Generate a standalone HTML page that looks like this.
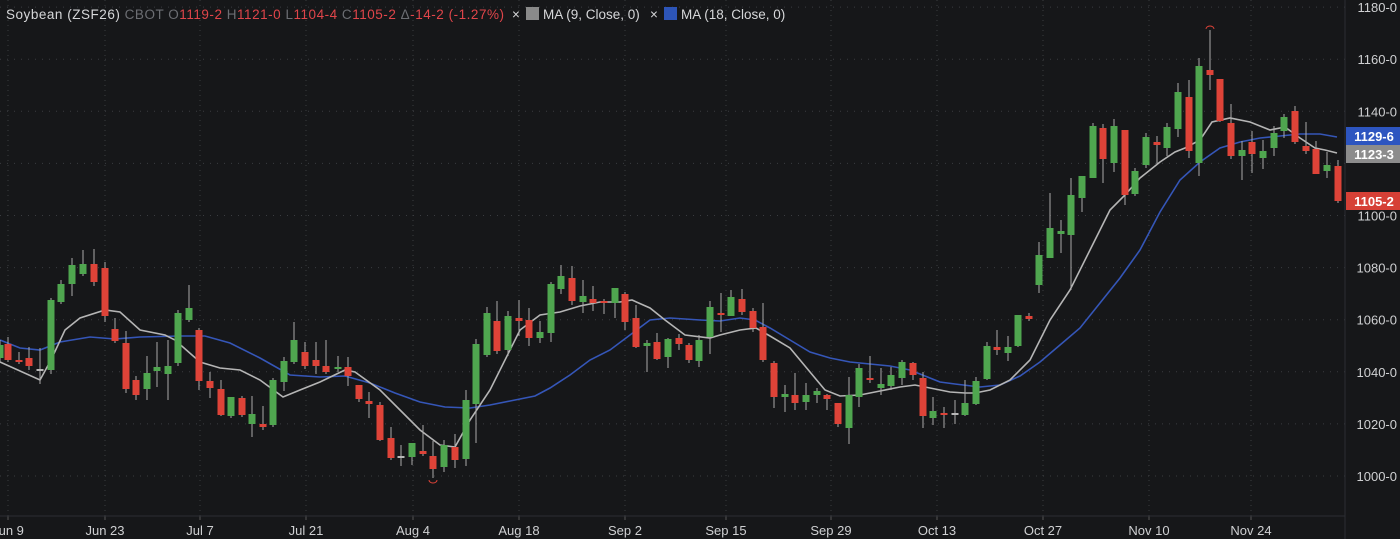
<!DOCTYPE html>
<html><head><meta charset="utf-8">
<style>
html,body{margin:0;padding:0;background:#161719;}
body{width:1400px;height:539px;overflow:hidden;position:relative;font-family:"Liberation Sans",sans-serif;}
svg{position:absolute;left:0;top:0;}
</style></head><body>
<svg id="s" width="1400" height="539" xmlns="http://www.w3.org/2000/svg">
<rect width="1400" height="539" fill="#161719"/>
<g id="grid"></g>
<g id="ma"></g>
<g id="c"></g>
<line x1="1345" y1="0" x2="1345" y2="539" stroke="#2c2e33"/>
<line x1="0" y1="516" x2="1345" y2="516" stroke="#2c2e33"/>
<g id="ax" font-size="13" fill="#cfd0d2"></g>
<g font-size="13.5" fill="#d6d7d9">
<text x="6" y="19" textLength="498" lengthAdjust="spacing">Soybean (ZSF26) <tspan fill="#6c6e73">CBOT O</tspan><tspan fill="#e0454a">1119-2</tspan><tspan fill="#6c6e73"> H</tspan><tspan fill="#e0454a">1121-0</tspan><tspan fill="#6c6e73"> L</tspan><tspan fill="#e0454a">1104-4</tspan><tspan fill="#6c6e73"> C</tspan><tspan fill="#e0454a">1105-2</tspan><tspan fill="#6c6e73"> Δ</tspan><tspan fill="#e0454a">-14-2 (-1.27%)</tspan></text>
<text x="512" y="19">×</text><rect x="526" y="7" width="13" height="13" fill="#8a8a8a"/><text x="543" y="19">MA (9, Close, 0)</text>
<text x="650" y="19">×</text><rect x="664" y="7" width="13" height="13" fill="#2d55b8"/><text x="681" y="19">MA (18, Close, 0)</text>
</g>
</svg>
<script>
const NS="http://www.w3.org/2000/svg";
function el(p,t,a){const e=document.createElementNS(NS,t);for(const k in a)e.setAttribute(k,a[k]);p.appendChild(e);return e;}
const g=document.getElementById('grid'),ax=document.getElementById('ax');
const xs=[8,105,200,306,413,519,625,726,831,937,1043,1149,1251],dl=["Jun 9","Jun 23","Jul 7","Jul 21","Aug 4","Aug 18","Sep 2","Sep 15","Sep 29","Oct 13","Oct 27","Nov 10","Nov 24"];
xs.forEach((x,i)=>{el(g,'line',{x1:x,y1:0,x2:x,y2:516,stroke:'#3a3c40','stroke-dasharray':'1 4'});el(g,'line',{x1:x,y1:516,x2:x,y2:520,stroke:'#555'});
 const t=el(ax,'text',{x:x,y:535,'text-anchor':'middle'});t.textContent=dl[i];});
for(let p=1000;p<=1180;p+=20){const y=476-(p-1000)*2.605;el(g,'line',{x1:0,y1:y,x2:1345,y2:y,stroke:'#3a3c40','stroke-dasharray':'1 6'});
 if(p!==1120){const t=el(ax,'text',{x:1397,y:y+5,'text-anchor':'end'});t.textContent=p+"-0";}}
const C=[[0,345,358,340,362,'g'],[8,344,360,337,362,'r'],[19,360,362,352,364,'r'],[29,358,366,347,370,'r'],[40,369,371,348,384,'n'],[51,300,370,298,374,'g'],[61,284,302,280,304,'g'],[72,265,284,258,296,'g'],[83,264,274,250,276,'g'],[94,264,282,249,286,'r'],[105,268,316,262,322,'r'],
[115,329,341,318,343,'r'],[126,343,389,331,393,'r'],[136,380,395,376,400,'r'],[147,373,389,356,400,'g'],[157,367,371,342,387,'g'],[168,366,374,340,400,'g'],[178,313,363,310,366,'g'],[189,308,320,285,322,'g'],[199,330,381,328,390,'r'],[210,381,388,372,398,'r'],[221,389,415,380,416,'r'],[231,397,416,397,418,'g'],[242,398,415,396,417,'r'],[252,414,424,396,437,'g'],[263,424,427,406,430,'r'],[273,380,425,378,427,'g'],[284,361,382,357,391,'g'],[294,340,362,322,364,'g'],[305,352,366,342,369,'r'],[316,360,366,342,374,'r'],[326,366,372,340,374,'r'],[338,367,369,356,372,'g'],[348,367,376,357,386,'r'],[359,385,399,385,402,'r'],[369,401,404,392,418,'r'],[380,405,440,402,441,'r'],[391,438,458,427,460,'r'],[401,456,458,445,466,'n'],[412,443,457,443,465,'g'],[423,451,454,425,456,'r'],[433,456,469,441,478,'r'],[444,445,467,440,472,'g'],[455,447,460,434,468,'r'],[466,400,459,390,466,'g'],[476,344,404,339,443,'g'],[487,313,355,307,357,'g'],[497,321,351,301,354,'r'],[508,316,350,311,356,'g'],[519,318,321,300,336,'r'],[529,320,338,308,346,'r'],[540,332,338,321,343,'g'],[551,284,333,282,342,'g'],[561,276,289,265,294,'g'],[572,278,301,266,305,'r'],[583,296,302,280,313,'g'],[593,299,303,286,311,'r'],[604,301,303,299,314,'r'],[615,288,303,288,318,'g'],[625,294,322,292,330,'r'],[636,318,347,305,348,'r'],[647,343,346,340,372,'g'],[657,342,359,333,360,'r'],[668,339,357,338,368,'g'],[679,338,344,334,350,'r'],[689,345,360,343,363,'r'],[699,340,361,335,367,'g'],[710,307,337,301,354,'g'],[721,313,315,293,332,'r'],[731,297,316,290,316,'g'],[742,299,312,289,315,'r'],[753,311,328,308,332,'r'],[763,327,360,303,362,'r'],[774,363,397,361,408,'r'],[785,394,397,385,412,'g'],[795,395,403,373,410,'r'],[806,395,402,383,410,'g'],[817,391,395,388,403,'g'],[827,395,399,394,410,'r'],[838,403,424,403,427,'r'],[849,395,428,377,444,'g'],[859,368,397,364,407,'g'],[870,378,380,356,383,'r'],[881,384,388,368,395,'g'],[891,375,386,367,390,'g'],[902,362,378,360,385,'g'],[913,363,375,362,380,'r'],[923,378,416,372,428,'r'],[933,411,418,397,425,'g'],[944,413,415,407,428,'r'],[955,413,414,400,424,'n'],[965,403,415,380,416,'g'],[976,381,404,377,405,'g'],[987,346,379,342,380,'g'],[997,347,350,330,355,'r'],[1008,347,353,336,361,'g'],[1018,315,346,315,347,'g'],[1029,316,319,313,321,'r'],[1039,255,285,242,293,'g'],[1050,228,258,193,258,'g'],[1061,231,234,220,253,'g'],[1071,195,235,178,290,'g'],[1082,176,198,176,212,'g'],[1093,126,178,123,178,'g'],[1103,128,159,124,183,'r'],[1114,126,163,119,172,'g'],[1125,130,195,130,205,'r'],[1135,171,194,168,196,'g'],[1146,137,165,133,168,'g'],[1157,142,145,136,165,'r'],[1167,127,148,123,156,'g'],[1178,92,129,83,137,'g'],[1189,97,151,80,158,'r'],[1199,66,163,58,176,'g'],[1210,70,75,30,90,'r'],[1220,79,121,79,122,'r'],[1231,123,156,104,159,'r'],[1242,150,156,141,180,'g'],[1252,142,154,131,173,'r'],[1263,151,158,140,169,'g'],[1274,133,148,126,156,'g'],[1284,117,131,114,138,'g'],[1295,111,142,106,144,'r'],[1306,146,151,122,154,'r'],[1316,149,174,141,174,'r'],[1327,165,171,152,178,'g'],[1338,166,201,160,203,'r']];
const cg=document.getElementById('c');
C.forEach(([x,bt,bb,wt,wb,c])=>{const col=c=='g'?'#4fa64f':c=='r'?'#de4338':'#b8b8b8';
 el(cg,'line',{x1:x,y1:wt,x2:x,y2:wb,stroke:'#a9a9a9','stroke-width':1});
 el(cg,'rect',{x:x-3.5,y:bt,width:7,height:Math.max(2,bb-bt),fill:col});});
el(cg,'path',{d:'M1206 29 A4 3 0 0 1 1214 29',stroke:'#de4338',fill:'none'});
el(cg,'path',{d:'M429 480 A4 3 0 0 0 437 480',stroke:'#de4338',fill:'none'});
const m=document.getElementById('ma');
const grey=[[0,362],[40,380],[51,360],[65,330],[80,318],[105,310],[120,312],[140,330],[165,335],[175,340],[200,362],[220,368],[240,370],[260,380],[283,397],[300,390],[320,382],[345,370],[355,372],[380,390],[400,410],[420,430],[440,445],[455,447],[470,420],[490,390],[520,330],[540,315],[560,312],[580,306],[600,302],[620,302],[632,300],[650,308],[665,320],[685,335],[710,338],[720,335],[740,330],[756,328],[770,336],[790,348],[810,372],[825,390],[840,396],[860,395],[880,391],[900,387],[915,385],[930,388],[950,392],[965,393],[975,393],[990,390],[1010,380],[1030,360],[1050,320],[1070,290],[1090,250],[1110,210],[1125,195],[1140,178],[1160,162],[1175,152],[1185,148],[1200,140],[1212,122],[1230,118],[1250,122],[1270,130],[1285,127],[1300,138],[1315,148],[1325,150],[1337,153]];
const blue=[[0,340],[20,348],[40,350],[60,342],[90,337],[115,339],[140,337],[180,336],[205,336],[230,343],[260,358],[290,375],[320,377],[345,376],[370,383],[395,393],[420,402],[445,407],[470,408],[490,405],[510,401],[535,396],[550,388],[570,375],[590,360],[610,350],[630,335],[650,320],[670,318],[700,320],[720,321],[740,318],[755,320],[770,328],[790,340],[810,352],[830,358],[850,362],[870,364],[890,366],[910,370],[925,376],[940,382],[955,384],[980,387],[1000,385],[1020,376],[1040,362],[1060,345],[1080,328],[1100,303],[1120,278],[1140,250],[1160,212],[1180,180],[1200,162],[1220,148],[1240,142],[1260,138],[1280,136],[1300,134],[1320,134],[1337,137]];
el(m,'polyline',{points:blue.join(' '),fill:'none',stroke:'#3556b8','stroke-width':1.6});
el(m,'polyline',{points:grey.join(' '),fill:'none',stroke:'#b5b5b5','stroke-width':1.6});
[[127,'#2d55c0','1129-6'],[145,'#8c8c8c','1123-3'],[192,'#d64036','1105-2']].forEach(([y,c,t])=>{
 el(ax,'rect',{x:1346,y:y,width:54,height:18,fill:c});
 const e=el(ax,'text',{x:1374,y:y+14,'text-anchor':'middle',fill:'#fff','font-weight':'bold'});e.textContent=t;});
</script>
</body></html>
